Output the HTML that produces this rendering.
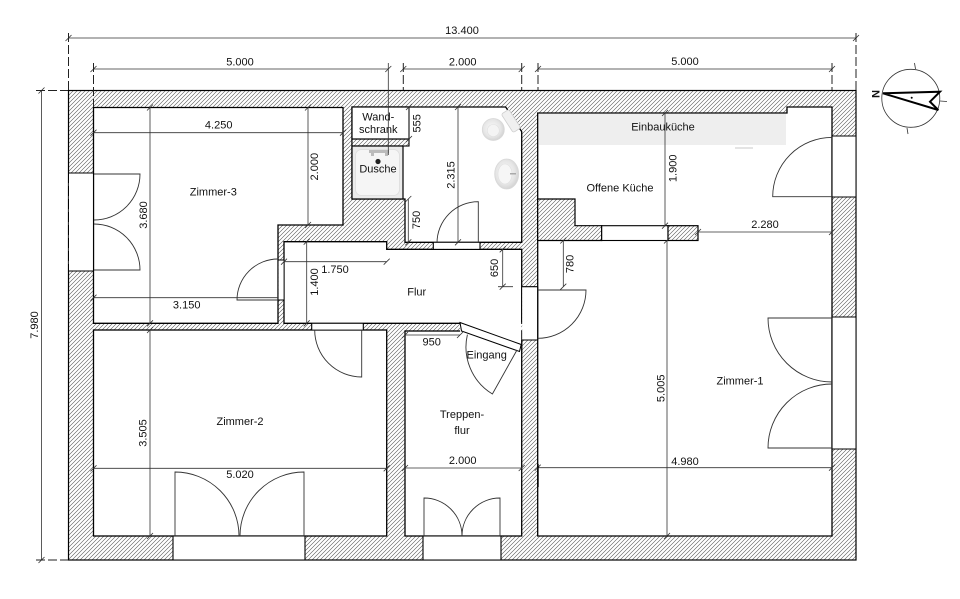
<!DOCTYPE html>
<html><head><meta charset="utf-8"><style>
html,body{margin:0;padding:0;background:#fff;}
svg{display:block;}
text{font-family:"Liberation Sans",sans-serif;font-size:11px;fill:#111;}
</style></head><body>
<svg width="960" height="599" viewBox="0 0 960 599" xmlns="http://www.w3.org/2000/svg">
<defs>
<pattern id="h" width="4" height="4" patternUnits="userSpaceOnUse">
<rect width="4" height="4" fill="#fff"/>
<path d="M-1,1 L1,-1 M0,4 L4,0 M3,5 L5,3" stroke="#555" stroke-width="0.6"/>
</pattern>
<radialGradient id="g" cx="0.45" cy="0.45" r="0.65"><stop offset="0" stop-color="#fbfbfb"/><stop offset="0.6" stop-color="#e6e6e6"/><stop offset="1" stop-color="#c9c9c9"/></radialGradient>
</defs>

<!-- outer wall slab -->
<rect x="68.5" y="90.5" width="787.5" height="469.5" fill="url(#h)" stroke="#000" stroke-width="1.2"/>

<!-- rooms -->
<g fill="#fff" stroke="#000" stroke-width="1.3">
<path d="M93.5,107.5 H343 V225 H278 V323.3 H93.5 Z"/>
<path d="M352,107 H505.7 L521.7,131.7 V242.3 H405 V199 H352 Z"/>
<path d="M284,241.7 H386.7 V249.3 H521.7 V323.3 H284 Z"/>
<rect x="93.5" y="330" width="293.2" height="206"/>
<rect x="405" y="331" width="116.7" height="205"/>
<path d="M537.7,113 H787 V107 H832 V536 H537.7 Z"/>
</g>

<!-- kitchen partitions -->
<path d="M537.7,199 H575 V225.7 H601.7 V240.5 H537.7 Z" fill="url(#h)" stroke="#000" stroke-width="1.2"/>
<rect x="601.7" y="225.7" width="66.3" height="14.8" fill="#fff" stroke="#000" stroke-width="1.1"/>
<rect x="668" y="225.7" width="30" height="14.8" fill="url(#h)" stroke="#000" stroke-width="1.2"/>

<!-- Einbaukueche -->
<rect x="539" y="114" width="247" height="31" fill="#eeeeee"/>
<rect x="735" y="147" width="18" height="2" fill="#e4e4e4"/>

<!-- wandschrank / dusche -->
<rect x="352" y="139" width="57" height="7" fill="url(#h)" stroke="#000" stroke-width="1.1"/>
<rect x="352" y="107" width="57" height="32" fill="#fff" stroke="#000" stroke-width="1.2"/>
<rect x="352" y="146" width="51" height="53" fill="#ebebeb" stroke="#000" stroke-width="1.2"/>
<rect x="355.5" y="149.5" width="44" height="46" rx="6" fill="#f5f5f5" stroke="#dcdcdc" stroke-width="0.8"/>
<rect x="369" y="150" width="20" height="3" fill="#bbb"/>
<rect x="371" y="153" width="3" height="3" fill="#bbb"/><rect x="385" y="153" width="3" height="3" fill="#bbb"/>
<circle cx="378" cy="161.5" r="2.6" fill="#222"/>

<!-- openings -->
<g fill="#fff" stroke="none">
<rect x="68.8" y="173" width="24.5" height="98"/>
<rect x="173" y="536.5" width="132" height="23"/>
<rect x="423" y="536.5" width="78" height="23"/>
<rect x="832.5" y="136" width="23" height="61"/>
<rect x="832.5" y="317" width="23" height="132"/>
<rect x="278.6" y="260" width="5" height="40"/>
<rect x="311.7" y="323.8" width="51.6" height="5.8"/>
<rect x="433.3" y="242.8" width="46.7" height="6"/>
<rect x="522.2" y="286.7" width="15" height="53.3"/>
<path d="M460,322.5 H521.2 V352 L460,331.5 Z"/>
</g>
<g stroke="#000" stroke-width="1.1" fill="none">
<path d="M68.5,173 H93.5 M68.5,271 H93.5 M93.5,173 V271"/>
<path d="M173,536 V560 M305,536 V560 M173,536 H305"/>
<path d="M423,536 V560 M501,536 V560 M423,536 H501"/>
<path d="M832,136 H856 M832,197 H856 M832,136 V197"/>
<path d="M832,317 H856 M832,449 H856 M832,317 V449"/>
<path d="M278,260 H284 M278,300 H284"/>
<path d="M311.7,323.3 V330 M363.3,323.3 V330"/>
<path d="M433.3,242.3 V249.3 M480,242.3 V249.3"/>
<path d="M521.7,286.7 H537.7 M521.7,340 H537.7 M537.7,286.7 V340"/>
<path d="M521.7,340 V352"/>
</g>
<!-- outer dashed lines on window outsides -->
<path d="M68.5,173 V271" stroke="#000" stroke-width="1" stroke-dasharray="10 3"/>

<!-- Eingang leaf -->
<path d="M460,322.5 L521.2,344.5 L519.5,351.5 L461.5,331 Z" fill="#fff" stroke="#000" stroke-width="1"/>

<!-- doors -->
<g stroke="#333" stroke-width="0.9" fill="none">
<path d="M94,174 H140 A46,46 0 0 1 94,220"/>
<path d="M94,270 H140 A46,46 0 0 0 94,224"/>
<path d="M175,536 V472 A64,64 0 0 1 239,536"/>
<path d="M304,536 V472 A64,64 0 0 0 240,536"/>
<path d="M424,536 V498 A38,38 0 0 1 462,536"/>
<path d="M500,536 V498 A38,38 0 0 0 462,536"/>
<path d="M832,318 H768 A64,64 0 0 0 832,382"/>
<path d="M832,448 H768 A64,64 0 0 1 832,384"/>
<path d="M832,196.7 H772.7 A59.3,59.3 0 0 1 832,137.4"/>
<path d="M278,300 H237 A41,41 0 0 1 278,259"/>
<path d="M361.7,330 V377 A47,47 0 0 1 314.7,330"/>
<path d="M478.3,243 V201.7 A41.3,41.3 0 0 0 437,243"/>
<path d="M537.7,290 H586 A48.3,48.3 0 0 1 537.7,338.3"/>
<path d="M467.4,334.6 A55,55 0 0 0 492.4,394 L517,350"/>
</g>

<!-- sanitary -->
<circle cx="493.3" cy="129.5" r="11" fill="url(#g)" stroke="#d8d8d8" stroke-width="0.8"/>
<circle cx="493.3" cy="130.5" r="6" fill="#f4f4f4" stroke="#e0e0e0" stroke-width="0.6"/>
<rect x="-11" y="-4.5" width="22" height="9" rx="2" fill="#f0f0f0" stroke="#cfcfcf" stroke-width="0.8" transform="translate(511,121) rotate(57)"/>
<ellipse cx="506.7" cy="174" rx="12" ry="15" fill="url(#g)" stroke="#d8d8d8" stroke-width="0.8"/>
<ellipse cx="505" cy="174" rx="7" ry="10" fill="#f6f6f6" stroke="#e0e0e0" stroke-width="0.6"/>
<rect x="510" y="173" width="6" height="1.5" fill="#aaa"/>

<!-- dimension lines -->
<g stroke="#333" stroke-width="0.8" fill="none">
<!-- 13.400 -->
<path d="M68.5,38 H856 M65.5,41 l6,-6 M853,41 l6,-6"/>
<!-- top 5.000 / 2.000 / 5.000 -->
<path d="M93.5,69 H388.3 M90.5,72 l6,-6 M385.3,72 l6,-6"/>
<path d="M403.3,69 H521.7 M400.3,72 l6,-6 M518.7,72 l6,-6"/>
<path d="M538,69 H832 M535,72 l6,-6 M829,72 l6,-6"/>
<!-- 7.980 -->
<path d="M41.5,90.5 V560 M38.5,93.5 l6,-6 M38.5,563 l6,-6"/>
<!-- 4.250 -->
<path d="M93.5,132.7 H343 M90.5,135.7 l6,-6 M340,135.7 l6,-6"/>
<!-- 2.000 vert -->
<path d="M308,107.5 V225 M305,110.5 l6,-6 M305,228 l6,-6"/>
<!-- 3.680 -->
<path d="M150,107.5 V323.3 M147,110.5 l6,-6 M147,326.3 l6,-6"/>
<!-- 3.505 -->
<path d="M150,330 V536 M147,333 l6,-6 M147,539 l6,-6"/>
<!-- 3.150 -->
<path d="M93.5,297.7 H278 M90.5,300.7 l6,-6"/>
<!-- 1.750 -->
<path d="M284,261.7 H386.7 M281,264.7 l6,-6 M383.7,264.7 l6,-6"/>
<!-- 1.400 -->
<path d="M306.7,241.7 V323.3 M303.7,244.7 l6,-6 M303.7,326.3 l6,-6"/>
<!-- 555 -->
<path d="M409,107 V139 M406,110 l6,-6 M406,142 l6,-6"/>
<!-- 750 -->
<path d="M408.3,199 V242.3 M405.3,202 l6,-6 M405.3,245.3 l6,-6"/>
<!-- 2.315 -->
<path d="M458,107 V242.3 M455,110 l6,-6 M455,245.3 l6,-6"/>
<!-- 650 -->
<path d="M502.7,249.3 V286.7 M499.7,252.3 l6,-6 M499.7,289.7 l6,-6 M498,286.7 H513"/>
<!-- 950 -->
<path d="M405,335 H460 M402,338 l6,-6 M457,338 l6,-6"/>
<!-- 780 -->
<path d="M563.3,240.5 V286.7 M560.3,243.5 l6,-6 M560.3,289.7 l6,-6"/>
<!-- 1.900 -->
<path d="M665,113 V225.7 M662,116 l6,-6 M662,228.7 l6,-6"/>
<!-- 2.280 -->
<path d="M698,232 H832 M695,235 l6,-6 M829,235 l6,-6"/>
<!-- 5.005 -->
<path d="M667,240.5 V536 M664,243.5 l6,-6 M664,539 l6,-6"/>
<!-- 5.020 -->
<path d="M93.5,468.3 H386.7 M90.5,471.3 l6,-6 M383.7,471.3 l6,-6"/>
<!-- 2.000 bottom -->
<path d="M405,468 H521.7 M402,471 l6,-6 M518.7,471 l6,-6"/>
<!-- 4.980 -->
<path d="M537.7,467.7 H832 M534.7,470.7 l6,-6 M829,470.7 l6,-6"/>
<path d="M388.3,63 V155"/>
</g>
<path d="M538,464 V487" stroke="#000" stroke-width="1.4"/>
<!-- extension lines -->
<g stroke="#222" stroke-width="1" fill="none" stroke-dasharray="9 3">
<path d="M68.5,33 V90"/>
<path d="M856,33 V90"/>
<path d="M93.5,63 V107"/>
<path d="M403.3,63 V90"/>
<path d="M521.7,63 V90"/>
<path d="M538,63 V90"/>
<path d="M832,63 V90"/>
<path d="M36,90.5 H68"/>
<path d="M36,560 H68"/>
</g>

<!-- compass -->
<g stroke="#333" fill="none">
<circle cx="910.8" cy="98.3" r="29" stroke-width="0.8"/>
<path d="M914.5,63 L915.5,69 M907,128 L908,134 M940,101 L947,101.5" stroke-width="0.8"/>
<path d="M883,93.3 L940,91.7 L930,101.7 L938.3,110 Z" fill="#fff" stroke="#000" stroke-width="2"/>
</g>
<circle cx="911.7" cy="97.7" r="1" fill="#000"/>
<text x="875" y="94" font-size="13" font-weight="bold" text-anchor="middle" dominant-baseline="central" transform="rotate(90 875 94)">N</text>

<!-- labels -->
<g text-anchor="middle" dominant-baseline="central">
<text x="462" y="31">13.400</text>
<text x="240" y="62.7">5.000</text>
<text x="462.7" y="62.7">2.000</text>
<text x="685" y="62">5.000</text>
<text x="218.7" y="125.7">4.250</text>
<text x="186.7" y="305.7">3.150</text>
<text x="335" y="270">1.750</text>
<text x="431.7" y="342.7">950</text>
<text x="765" y="225">2.280</text>
<text x="240" y="475">5.020</text>
<text x="462.7" y="461">2.000</text>
<text x="685" y="462">4.980</text>

<text transform="translate(35,325) rotate(-90)">7.980</text>
<text transform="translate(144,215) rotate(-90)">3.680</text>
<text transform="translate(315,166.7) rotate(-90)">2.000</text>
<text transform="translate(315,282) rotate(-90)">1.400</text>
<text transform="translate(143.5,433) rotate(-90)">3.505</text>
<text transform="translate(417.3,123.3) rotate(-90)">555</text>
<text transform="translate(451.7,175) rotate(-90)">2.315</text>
<text transform="translate(417,220) rotate(-90)">750</text>
<text transform="translate(495,268) rotate(-90)">650</text>
<text transform="translate(570.5,264) rotate(-90)">780</text>
<text transform="translate(673.3,168.3) rotate(-90)">1.900</text>
<text transform="translate(661.7,388.3) rotate(-90)">5.005</text>

<text x="213.3" y="192.7">Zimmer-3</text>
<text x="416.7" y="292.7">Flur</text>
<text x="486.7" y="355.7">Eingang</text>
<text x="240" y="422">Zimmer-2</text>
<text x="462" y="415">Treppen-</text>
<text x="462" y="431">flur</text>
<text x="378.3" y="117.7">Wand-</text>
<text x="378.3" y="130">schrank</text>
<text x="378" y="169.3">Dusche</text>
<text x="663" y="127.7">Einbauküche</text>
<text x="620" y="188.5">Offene Küche</text>
<text x="740" y="381.7">Zimmer-1</text>
</g>
</svg>
</body></html>
